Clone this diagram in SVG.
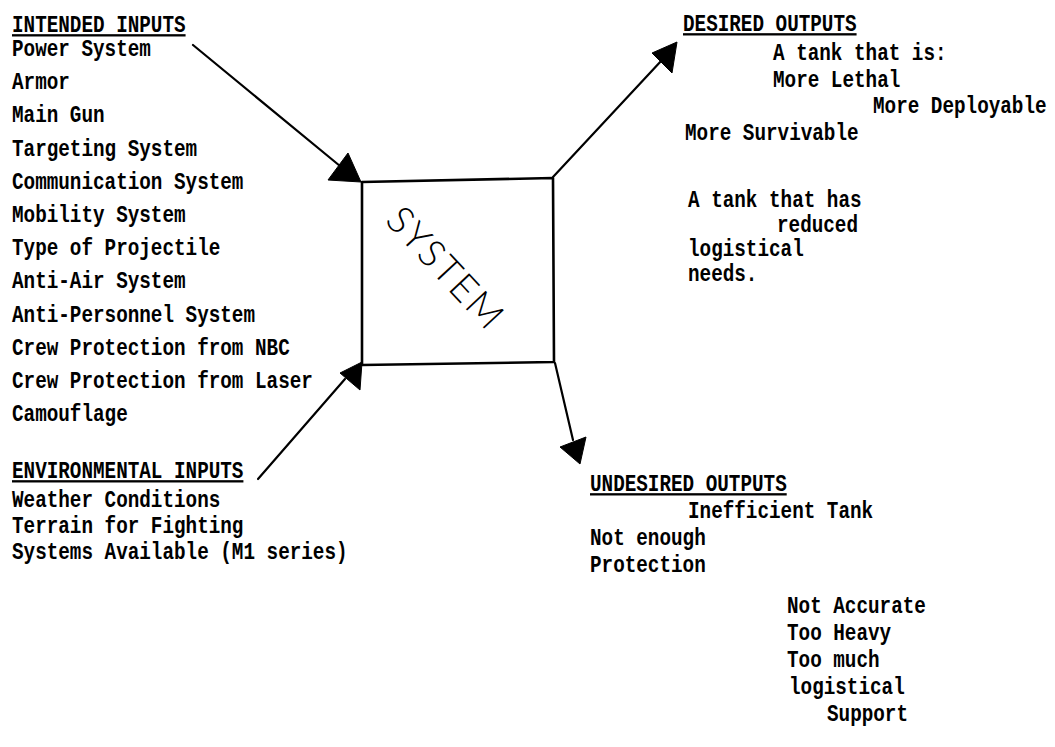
<svg xmlns="http://www.w3.org/2000/svg" width="1055" height="747" viewBox="0 0 1055 747">
<style>
.t{font-family:"Liberation Mono","DejaVu Sans Mono",monospace;font-size:19.3px;font-weight:bold;fill:#000}
.h{text-decoration:underline}
.ln{stroke:#000;stroke-width:2.2;fill:none;stroke-linecap:round}
.ah{fill:#000;stroke:#000;stroke-width:1;stroke-linejoin:round}
.box{fill:none;stroke:#000;stroke-width:2.6;stroke-linejoin:round}
.hand{font-family:"Lato","Open Sans","Liberation Sans",sans-serif;font-weight:300;font-size:38px;fill:#000;letter-spacing:2px}
</style>
<rect width="1055" height="747" fill="#fff"/>

<g id="connectors">
  <line class="ln" x1="193" y1="45" x2="340" y2="166"/>
  <polygon class="ah" points="348,153 328,180 361,182"/>
  <line class="ln" x1="553" y1="177" x2="662" y2="60"/>
  <polygon class="ah" points="677,42 652,53 672,73"/>
  <line class="ln" x1="555" y1="363" x2="573" y2="440"/>
  <polygon class="ah" points="560,447 586,437 580,464"/>
  <line class="ln" x1="258" y1="479" x2="345" y2="379"/>
  <polygon class="ah" points="340,373 362,362 360,390"/>
</g>

<g id="system">
  <polygon class="box" points="362,182 553,178 554,362 362,365"/>
  <text class="hand" transform="translate(447,267) rotate(47)" text-anchor="middle" dominant-baseline="central">SYSTEM</text>
</g>

<g id="intended-inputs">
  <text class="t h" transform="translate(12,32) scale(1,1.2)">INTENDED INPUTS</text>
  <text class="t" transform="translate(12,56) scale(1,1.2)">Power System</text>
  <text class="t" transform="translate(12,89.2) scale(1,1.2)">Armor</text>
  <text class="t" transform="translate(12,122.4) scale(1,1.2)">Main Gun</text>
  <text class="t" transform="translate(12,155.6) scale(1,1.2)">Targeting System</text>
  <text class="t" transform="translate(12,188.8) scale(1,1.2)">Communication System</text>
  <text class="t" transform="translate(12,222) scale(1,1.2)">Mobility System</text>
  <text class="t" transform="translate(12,255.2) scale(1,1.2)">Type of Projectile</text>
  <text class="t" transform="translate(12,288.4) scale(1,1.2)">Anti-Air System</text>
  <text class="t" transform="translate(12,321.6) scale(1,1.2)">Anti-Personnel System</text>
  <text class="t" transform="translate(12,354.8) scale(1,1.2)">Crew Protection from NBC</text>
  <text class="t" transform="translate(12,388) scale(1,1.2)">Crew Protection from Laser</text>
  <text class="t" transform="translate(12,421.2) scale(1,1.2)">Camouflage</text>
</g>

<g id="environmental-inputs">
  <text class="t h" transform="translate(12,478) scale(1,1.2)">ENVIRONMENTAL INPUTS</text>
  <text class="t" transform="translate(12,507) scale(1,1.2)">Weather Conditions</text>
  <text class="t" transform="translate(12,533) scale(1,1.2)">Terrain for Fighting</text>
  <text class="t" transform="translate(12,559) scale(1,1.2)">Systems Available (M1 series)</text>
</g>

<g id="desired-outputs">
  <text class="t h" transform="translate(683,31) scale(1,1.2)">DESIRED OUTPUTS</text>
  <text class="t" transform="translate(773,60) scale(1,1.2)">A tank that is:</text>
  <text class="t" transform="translate(773,87) scale(1,1.2)">More Lethal</text>
  <text class="t" transform="translate(873,113) scale(1,1.2)">More Deployable</text>
  <text class="t" transform="translate(685,140) scale(1,1.2)">More Survivable</text>
  <text class="t" transform="translate(688,207) scale(1,1.2)">A tank that has</text>
  <text class="t" transform="translate(777,232) scale(1,1.2)">reduced</text>
  <text class="t" transform="translate(688,256) scale(1,1.2)">logistical</text>
  <text class="t" transform="translate(688,281) scale(1,1.2)">needs.</text>
</g>

<g id="undesired-outputs">
  <text class="t h" transform="translate(590,491) scale(1,1.2)">UNDESIRED OUTPUTS</text>
  <text class="t" transform="translate(688,518) scale(1,1.2)">Inefficient Tank</text>
  <text class="t" transform="translate(590,545) scale(1,1.2)">Not enough</text>
  <text class="t" transform="translate(590,572) scale(1,1.2)">Protection</text>
  <text class="t" transform="translate(787,613) scale(1,1.2)">Not Accurate</text>
  <text class="t" transform="translate(787,640) scale(1,1.2)">Too Heavy</text>
  <text class="t" transform="translate(787,667) scale(1,1.2)">Too much</text>
  <text class="t" transform="translate(789,694) scale(1,1.2)">logistical</text>
  <text class="t" transform="translate(827,721) scale(1,1.2)">Support</text>
</g>
</svg>
